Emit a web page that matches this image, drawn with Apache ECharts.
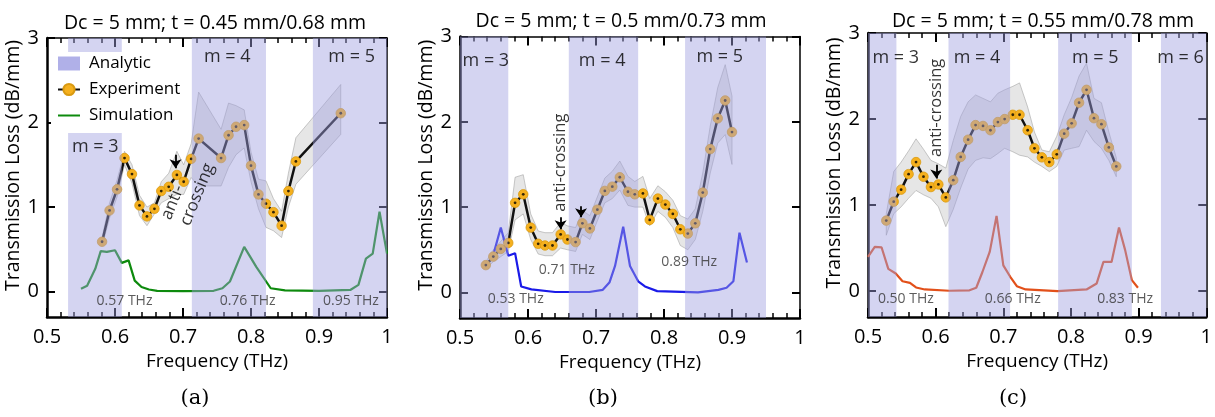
<!DOCTYPE html>
<html>
<head>
<meta charset="utf-8">
<script src="https://cdn.jsdelivr.net/npm/echarts@6/dist/echarts.min.js"></script>
<style>
  html, body { margin: 0; padding: 0; background: #fff; }
  #chart { width: 1215px; height: 417px; }
</style>
</head>
<body>
<div id="chart"></div>
<script>
// ---- Tick labels ----
const xTickLabels = ['0.5', '0.6', '0.7', '0.8', '0.9', '1'];
const yTickValues = [0, 1, 2, 3];

// ---- Panel (a): Dc = 5 mm; t = 0.45 mm/0.68 mm ----
const aExpFreq = [0.581,0.592,0.603,0.614,0.625,0.636,0.647,0.658,0.668,0.679,0.691,0.701,0.712,0.723,0.756,0.767,0.778,0.790,0.800,0.811,0.822,0.833,0.845,0.855,0.866,0.932];
const aExpLoss = [0.59,0.96,1.21,1.58,1.39,1.02,0.89,0.98,1.19,1.24,1.38,1.30,1.57,1.81,1.58,1.85,1.95,1.97,1.49,1.15,1.04,0.94,0.78,1.19,1.54,2.11];
const aExpLow  = [0.54,0.87,1.12,1.50,1.28,0.90,0.78,0.92,1.05,1.10,1.15,1.15,1.35,1.25,1.25,1.47,1.62,1.70,1.30,0.98,0.76,0.72,0.64,1.00,1.27,1.86];
const aExpHigh = [0.64,1.05,1.32,1.66,1.50,1.14,1.00,1.05,1.30,1.40,1.66,1.50,1.75,2.36,1.92,2.23,2.20,2.15,1.65,1.33,1.31,1.10,0.95,1.40,1.82,2.45];
const aSimFreq = [0.550,0.559,0.571,0.579,0.588,0.600,0.610,0.620,0.629,0.639,0.650,0.662,0.700,0.745,0.758,0.769,0.790,0.808,0.829,0.850,0.900,0.946,0.958,0.969,0.979,0.989,1.000];
const aSimLoss = [0.035,0.07,0.27,0.48,0.47,0.49,0.34,0.37,0.13,0.055,0.025,0.01,0.005,0.01,0.04,0.12,0.53,0.29,0.04,0.015,0.01,0.02,0.08,0.39,0.45,0.945,0.45];
const aBands = [[0.531, 0.610], [0.713, 0.822], [0.891, 1.0]];

// ---- Panel (b): Dc = 5 mm; t = 0.5 mm/0.73 mm ----
const bExpFreq = [0.538,0.549,0.560,0.571,0.581,0.593,0.604,0.615,0.625,0.636,0.648,0.658,0.670,0.680,0.691,0.702,0.713,0.724,0.735,0.747,0.757,0.769,0.779,0.791,0.802,0.813,0.824,0.835,0.846,0.857,0.868,0.879,0.890,0.900];
const bExpLoss = [0.32,0.42,0.51,0.58,1.05,1.15,0.76,0.57,0.55,0.55,0.68,0.62,0.59,0.81,0.75,0.97,1.19,1.24,1.35,1.18,1.15,1.16,0.85,1.10,1.03,0.92,0.74,0.69,0.81,1.17,1.68,2.04,2.25,1.88];
const bExpLow  = [0.28,0.36,0.42,0.48,0.85,0.92,0.62,0.45,0.43,0.43,0.52,0.50,0.48,0.68,0.62,0.84,1.05,1.10,1.20,1.02,1.00,1.00,0.78,0.95,0.88,0.76,0.55,0.50,0.62,0.95,1.40,1.75,1.85,1.50];
const bExpHigh = [0.36,0.50,0.60,0.70,1.35,1.38,0.92,0.72,0.70,0.70,0.82,0.78,0.76,0.96,0.90,1.12,1.34,1.42,1.54,1.36,1.30,1.36,1.10,1.25,1.18,1.08,0.90,0.86,0.98,1.40,1.95,2.40,2.67,2.30];
const bSimFreq = [0.549,0.560,0.571,0.581,0.590,0.605,0.640,0.690,0.710,0.720,0.728,0.740,0.750,0.762,0.772,0.790,0.850,0.880,0.892,0.902,0.911,0.922];
const bSimLoss = [0.44,0.76,0.43,0.46,0.07,0.035,0.005,0.005,0.03,0.12,0.31,0.77,0.31,0.13,0.07,0.015,0.0,0.03,0.055,0.13,0.70,0.35];
const bBands = [[0.5, 0.571], [0.660, 0.762], [0.831, 0.950]];

// ---- Panel (c): Dc = 5 mm; t = 0.55 mm/0.78 mm ----
const cExpFreq = [0.527,0.538,0.549,0.560,0.571,0.582,0.593,0.604,0.615,0.626,0.637,0.648,0.659,0.670,0.681,0.692,0.702,0.714,0.724,0.736,0.746,0.757,0.768,0.779,0.790,0.801,0.812,0.823,0.834,0.845,0.856,0.867];
const cExpLoss = [0.82,1.04,1.18,1.36,1.50,1.33,1.21,1.24,1.09,1.29,1.56,1.76,1.93,1.92,1.87,1.965,2.00,2.05,2.05,1.87,1.66,1.555,1.50,1.59,1.83,1.95,2.19,2.34,2.01,1.94,1.67,1.45];
const cExpLow  = [0.65,0.90,0.98,1.08,1.17,1.12,1.08,0.98,0.75,0.95,1.20,1.42,1.52,1.55,1.54,1.60,1.66,1.62,1.58,1.56,1.50,1.45,1.39,1.45,1.64,1.66,1.68,1.87,1.74,1.66,1.52,1.33];
const cExpHigh = [0.90,1.39,1.50,1.63,1.77,1.65,1.52,1.48,1.43,1.75,2.03,2.20,2.28,2.24,2.20,2.30,2.34,2.38,2.42,2.14,1.85,1.64,1.62,1.80,2.05,2.25,2.50,2.65,2.24,2.19,1.85,1.55];
const cSimFreq = [0.500,0.510,0.520,0.530,0.541,0.551,0.562,0.571,0.584,0.620,0.650,0.660,0.669,0.680,0.690,0.700,0.710,0.720,0.733,0.780,0.823,0.838,0.848,0.860,0.871,0.880,0.890,0.899];
const cSimLoss = [0.40,0.515,0.51,0.26,0.205,0.115,0.097,0.043,0.02,0.005,0.01,0.04,0.22,0.46,0.875,0.30,0.17,0.058,0.02,0.0,0.02,0.09,0.34,0.34,0.74,0.48,0.128,0.04];
const cBands = [[0.5, 0.542], [0.619, 0.710], [0.781, 0.890], [0.933, 1.0]];

// ---- Styling ----
const FONT = '"Open Sans", sans-serif';
const BAND_COLOR = 'rgba(160,160,225,0.45)';
const ORANGE = '#f5b01e';

const pairs = (xs, ys) => xs.map((x, i) => [x, ys[i]]);

const panels = [
  {
    box: { left: 47, top: 38, width: 340, height: 279 },
    title: 'Dc = 5 mm; t = 0.45 mm/0.68 mm', titleX: 215, titleY: 13, tag: '(a)', tagX: 195,
    expX: aExpFreq, expY: aExpLoss, lo: aExpLow, hi: aExpHigh,
    simX: aSimFreq, simY: aSimLoss, simColor: '#0d8a0d', bands: aBands,
    names: ['Experiment', 'Simulation', 'Analytic'],
    notes: [
      { t: 'm = 3', x: 0.571, y: 1.71, size: 18 },
      { t: 'm = 4', x: 0.765, y: 2.78, size: 18 },
      { t: 'm = 5', x: 0.948, y: 2.78, size: 18 },
      { t: '0.57 THz', x: 0.614, y: -0.11, size: 14, color: '#333' },
      { t: '0.76 THz', x: 0.795, y: -0.11, size: 14, color: '#333' },
      { t: '0.95 THz', x: 0.947, y: -0.11, size: 14, color: '#333' },
      { t: 'anti-', x: 0.675, y: 0.86, size: 17, rotate: 68, align: 'left' },
      { t: 'crossing', x: 0.703, y: 0.79, size: 17, rotate: 68, align: 'left' }
    ],
    arrows: [[0.689, 1.62, 1.46]]
  },
  {
    box: { left: 460, top: 36.5, width: 340, height: 281.5 },
    title: 'Dc = 5 mm; t = 0.5 mm/0.73 mm', titleX: 621, titleY: 11, tag: '(b)', tagX: 603,
    expX: bExpFreq, expY: bExpLoss, lo: bExpLow, hi: bExpHigh,
    simX: bSimFreq, simY: bSimLoss, simColor: '#1a1ae8', bands: bBands,
    names: ['Experiment ', 'Simulation ', 'Analytic '],
    notes: [
      { t: 'm = 3', x: 0.538, y: 2.72, size: 18 },
      { t: 'm = 4', x: 0.709, y: 2.72, size: 18 },
      { t: 'm = 5', x: 0.882, y: 2.76, size: 18 },
      { t: '0.53 THz', x: 0.582, y: -0.08, size: 14, color: '#333' },
      { t: '0.71 THz', x: 0.657, y: 0.26, size: 14, color: '#333' },
      { t: '0.89 THz', x: 0.837, y: 0.36, size: 14, color: '#333' },
      { t: 'anti-crossing', x: 0.647, y: 1.52, size: 16.5, rotate: 90 }
    ],
    arrows: [[0.648, 0.88, 0.74], [0.678, 1.01, 0.88]]
  },
  {
    box: { left: 868, top: 33, width: 341, height: 284 },
    title: 'Dc = 5 mm; t = 0.55 mm/0.78 mm', titleX: 1043, titleY: 11, tag: '(c)', tagX: 1013,
    expX: cExpFreq, expY: cExpLoss, lo: cExpLow, hi: cExpHigh,
    simX: cSimFreq, simY: cSimLoss, simColor: '#e2501a', bands: cBands,
    names: ['Experiment  ', 'Simulation  ', 'Analytic  '],
    notes: [
      { t: 'm = 3', x: 0.541, y: 2.71, size: 18 },
      { t: 'm = 4', x: 0.661, y: 2.71, size: 18 },
      { t: 'm = 5', x: 0.836, y: 2.71, size: 18 },
      { t: 'm = 6', x: 0.962, y: 2.71, size: 18 },
      { t: '0.50 THz', x: 0.556, y: -0.09, size: 14, color: '#333' },
      { t: '0.66 THz', x: 0.714, y: -0.09, size: 14, color: '#333' },
      { t: '0.83 THz', x: 0.880, y: -0.09, size: 14, color: '#333' },
      { t: 'anti-crossing', x: 0.601, y: 2.13, size: 16.5, rotate: 90 }
    ],
    arrows: [[0.601, 1.47, 1.31]]
  }
];

const grids = [], xAxes = [], yAxes = [], series = [], titles = [];

panels.forEach((p, i) => {
  grids.push(Object.assign({ containLabel: false }, p.box));
  const bx = 2 * i;

  xAxes.push({
    gridIndex: i, type: 'value', min: 0.5, max: 1, interval: 0.1, position: 'bottom',
    name: 'Frequency (THz)', nameLocation: 'middle', nameGap: 35,
    nameTextStyle: { fontFamily: FONT, fontSize: 19, color: '#000' },
    axisLine: { onZero: false, lineStyle: { color: '#000', width: 2.5 } },
    axisTick: { inside: true, length: 9, lineStyle: { color: '#000', width: 2 } },
    minorTick: { show: true, splitNumber: 5, length: 5, lineStyle: { color: '#000', width: 1.5 } },
    axisLabel: { fontFamily: FONT, fontSize: 20, color: '#000', margin: 10,
      formatter: v => xTickLabels[Math.round((v - 0.5) * 10)] },
    splitLine: { show: false }, minorSplitLine: { show: false }
  });
  xAxes.push({
    gridIndex: i, type: 'value', min: 0.5, max: 1, interval: 0.1, position: 'top',
    axisLine: { onZero: false, lineStyle: { color: '#000', width: 1.5 } },
    axisTick: { inside: true, length: 9, lineStyle: { color: '#000', width: 2 } },
    minorTick: { show: true, splitNumber: 5, length: 5, lineStyle: { color: '#000', width: 1.5 } },
    axisLabel: { show: false }, splitLine: { show: false }, minorSplitLine: { show: false }
  });
  yAxes.push({
    gridIndex: i, type: 'value', min: -0.3, max: 3, position: 'left',
    name: 'Transmission Loss (dB/mm)', nameLocation: 'middle', nameGap: 12,
    nameTextStyle: { fontFamily: FONT, fontSize: 19.5, color: '#000', padding: [0, 0, 0, 24] },
    axisLine: { onZero: false, lineStyle: { color: '#000', width: 2.5 } },
    axisTick: { inside: true, length: 8, customValues: yTickValues, lineStyle: { color: '#000', width: 2 } },
    axisLabel: { fontFamily: FONT, fontSize: 20, color: '#000', margin: 8, customValues: yTickValues },
    splitLine: { show: false }
  });
  yAxes.push({
    gridIndex: i, type: 'value', min: -0.3, max: 3, position: 'right',
    axisLine: { onZero: false, lineStyle: { color: '#000', width: 1.5 } },
    axisTick: { inside: true, length: 8, customValues: yTickValues, lineStyle: { color: '#000', width: 2 } },
    axisLabel: { show: false }, splitLine: { show: false }
  });

  const ax = { xAxisIndex: bx, yAxisIndex: bx };

  // measurement uncertainty envelope: polygon along the upper bound and back along the lower bound
  series.push(Object.assign({
    type: 'custom', name: 'envelope' + i, silent: true, z: 2,
    data: [[p.expX[0], p.lo[0]]],
    renderItem: (params, api) => {
      const top = p.expX.map((x, k) => api.coord([x, p.hi[k]]));
      const bottom = p.expX.map((x, k) => api.coord([x, p.lo[k]])).reverse();
      return {
        type: 'polygon',
        shape: { points: top.concat(bottom) },
        style: { fill: 'rgba(195,195,195,0.42)', stroke: 'rgba(150,150,150,0.5)', lineWidth: 1 }
      };
    }
  }, ax));

  // simulated loss
  series.push(Object.assign({
    type: 'line', name: p.names[1], data: pairs(p.simX, p.simY), symbol: 'none',
    color: p.simColor, lineStyle: { color: p.simColor, width: 2.2 }, z: 3, silent: true
  }, ax));

  // measured loss
  series.push(Object.assign({
    type: 'line', name: p.names[0], data: pairs(p.expX, p.expY),
    symbol: 'circle', symbolSize: 9.5, showAllSymbol: true, color: ORANGE,
    itemStyle: { color: ORANGE, borderColor: '#d99a12', borderWidth: 0.8 },
    lineStyle: { color: '#111', width: 2.5 }, z: 4, silent: true
  }, ax));
  series.push(Object.assign({
    type: 'scatter', name: 'centre' + i, data: pairs(p.expX, p.expY),
    symbol: 'circle', symbolSize: 2.8, itemStyle: { color: '#000' }, z: 4, silent: true
  }, ax));

  // analytic mode bands
  series.push(Object.assign({
    type: 'line', name: p.names[2], data: [], color: '#b0b0e8', silent: true, z: 5,
    markArea: {
      silent: true, z: 5,
      itemStyle: { color: BAND_COLOR },
      data: p.bands.map(b => [{ xAxis: b[0] }, { xAxis: b[1] }])
    }
  }, ax));

  // text notes and arrows
  series.push(Object.assign({
    type: 'scatter', name: 'notes' + i, symbolSize: 1, silent: true, z: 7,
    itemStyle: { color: 'rgba(0,0,0,0)' },
    data: p.notes.map(n => ({
      value: [n.x, n.y],
      label: {
        show: true, position: 'inside', formatter: n.t,
        fontFamily: FONT, fontSize: n.size, color: n.color || '#000',
        rotate: n.rotate || 0, align: n.align || 'center', verticalAlign: 'middle'
      }
    })),
    markLine: {
      silent: true, z: 7, symbol: ['none', 'arrow'], symbolSize: 9,
      lineStyle: { color: '#000', width: 1.8, type: 'solid' },
      label: { show: false },
      data: p.arrows.map(a => [{ coord: [a[0], a[1]] }, { coord: [a[0], a[2]] }])
    }
  }, ax));

  titles.push({
    text: p.title, left: p.titleX, top: p.titleY, textAlign: 'center', padding: 0,
    textStyle: { fontFamily: FONT, fontSize: 19.5, fontWeight: 'normal', color: '#000' }
  });
  titles.push({
    text: p.tag, left: p.tagX, top: 388, textAlign: 'center', padding: 0,
    textStyle: { fontFamily: '"DejaVu Serif", serif', fontSize: 21, fontWeight: 'normal', color: '#000' }
  });
});

const chart = echarts.init(document.getElementById('chart'), null, { renderer: 'canvas' });
chart.setOption({
  animation: false,
  backgroundColor: '#fff',
  title: titles,
  grid: grids,
  xAxis: xAxes,
  yAxis: yAxes,
  legend: {
    orient: 'vertical', left: 51, top: 52, z: 10,
    backgroundColor: '#fff', padding: [3, 8, 9, 6], itemGap: 9,
    itemWidth: 22, itemHeight: 14, selectedMode: false,
    textStyle: { fontFamily: FONT, fontSize: 17, color: '#000', padding: [0, 0, 0, 4] },
    data: [
      { name: 'Analytic', icon: 'rect', itemStyle: { color: '#b0b0e8', opacity: 1 } },
      { name: 'Experiment' },
      { name: 'Simulation', itemStyle: { color: 'rgba(0,0,0,0)', borderColor: 'rgba(0,0,0,0)' } }
    ]
  },
  series: series
});
</script>
</body>
</html>
